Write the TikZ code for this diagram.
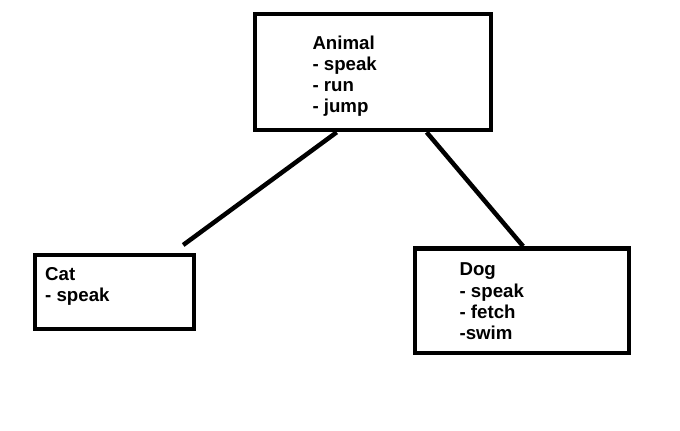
\documentclass[tikz,border=0pt]{standalone}
\usepackage{fontspec}
\setmainfont{Liberation Sans}
\usetikzlibrary{calc}
\tikzset{
  box/.style={draw=black, line width=4.5pt, rectangle, inner sep=0pt, fill=white},
  label/.style={anchor=base west, inner sep=0pt, outer sep=0pt, font=\fontsize{18.67}{21.33}\selectfont\bfseries},
  link/.style={draw=black, line width=4.5pt}
}
\begin{document}
\begin{tikzpicture}[x=1pt,y=-1pt]
\useasboundingbox[fill=white] (0,0) rectangle (680,431);
% boxes
\node[box, minimum width=236pt, minimum height=116pt] (animal) at (373,72) {};
\node[box, minimum width=159pt, minimum height=74pt] (cat) at (114.5,292) {};
\node[box, minimum width=214pt, minimum height=104.5pt] (dog) at (522,300.75) {};
% texts
\node[label] (animaltext) at (312.5,49) {\begin{tabular}[t]{@{}l@{}}Animal\\- speak\\- run\\- jump\end{tabular}};
\node[label] (cattext) at (45.2,280) {\begin{tabular}[t]{@{}l@{}}Cat\\- speak\end{tabular}};
\node[label] (dogtext) at (459.6,275.7) {\begin{tabular}[t]{@{}l@{}}Dog\\- speak\\- fetch\\-swim\end{tabular}};
% connectors
\coordinate (catend) at ($(cat.north west)!0.92!(cat.north east)+(0,-7.75)$);
\draw[link] ($(animal.south west)!0.349!(animal.south east)$) -- (catend);
\draw[link] ($(animal.south west)!0.723!(animal.south east)$) -- ($(dog.north west)!0.505!(dog.north east)$);
\end{tikzpicture}
\end{document}
